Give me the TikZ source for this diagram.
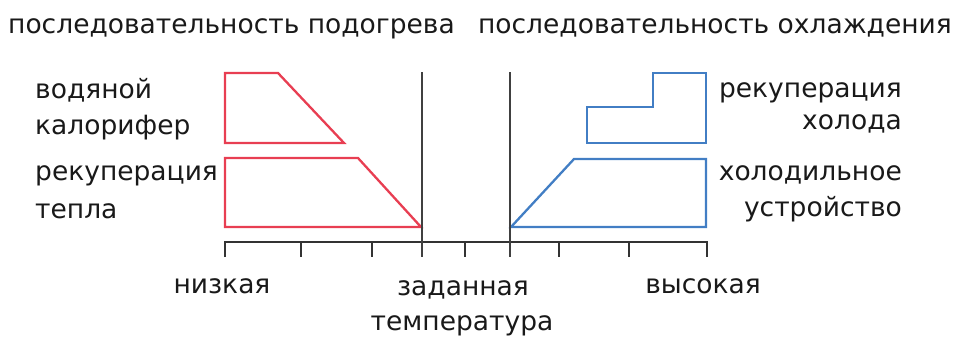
\documentclass[tikz,border=0pt]{standalone}
\usepackage{fontspec}
\setmainfont{DejaVu Sans}
\begin{document}
\begin{tikzpicture}[x=1pt,y=-1pt,
  lbl/.style={inner sep=0pt,font=\fontsize{26.5}{32}\selectfont,text=black!90},
  heat/.style={draw={rgb,255:red,232;green,62;blue,82},line width=2.3pt,line join=miter},
  cool/.style={draw={rgb,255:red,66;green,126;blue,196},line width=2.3pt,line join=miter},
  axis/.style={draw=black!80,line width=2.2pt},
  setp/.style={draw=black!75,line width=2.6pt}]
\useasboundingbox (0,0) rectangle (960,338);

% headings
\node[lbl,anchor=base west] (hh) at (8,33) {последовательность подогрева};
\node[lbl,anchor=base east] (hc) at (952,33) {последовательность охлаждения};

% heating stages
\draw[heat] (225,73) -- (278,73) -- (344,143) -- (225,143) -- cycle;
\draw[heat] (225,158) -- (358,158) -- (421,227) -- (225,227) -- cycle;

% cooling stages
\draw[cool] (653,73) -- (706,73) -- (706,143) -- (587,143) -- (587,107) -- (653,107) -- cycle;
\draw[cool] (511,227) -- (574,159) -- (706,159) -- (706,227) -- cycle;

% temperature axis
\draw[axis] (225,257) -- (225,242) -- (707,242) -- (707,257);
\foreach \t in {301,372,465,559,629}
  \draw[axis] (\t,242) -- (\t,257);
% set-point band limits
\draw[setp] (422,72) -- (422,257);
\draw[setp] (510,72) -- (510,257);

% stage labels
\node[lbl,anchor=base west] (l1) at (35,98) {водяной};
\node[lbl,anchor=base west] (l2) at (35,134) {калорифер};
\node[lbl,anchor=base west] (l3) at (35,180) {рекуперация};
\node[lbl,anchor=base west] (l4) at (35,218) {тепла};
\node[lbl,anchor=base east] (r1) at (902,97) {рекуперация};
\node[lbl,anchor=base east] (r2) at (902,129) {холода};
\node[lbl,anchor=base east] (r3) at (902,180) {холодильное};
\node[lbl,anchor=base east] (r4) at (902,216) {устройство};

% axis labels
\node[lbl,anchor=base] (lo) at (222,293) {низкая};
\node[lbl,anchor=base] (sp1) at (463,295) {заданная};
\node[lbl,anchor=base] (sp2) at (462,330) {температура};
\node[lbl,anchor=base] (hi) at (703,293) {высокая};
\end{tikzpicture}
\end{document}
